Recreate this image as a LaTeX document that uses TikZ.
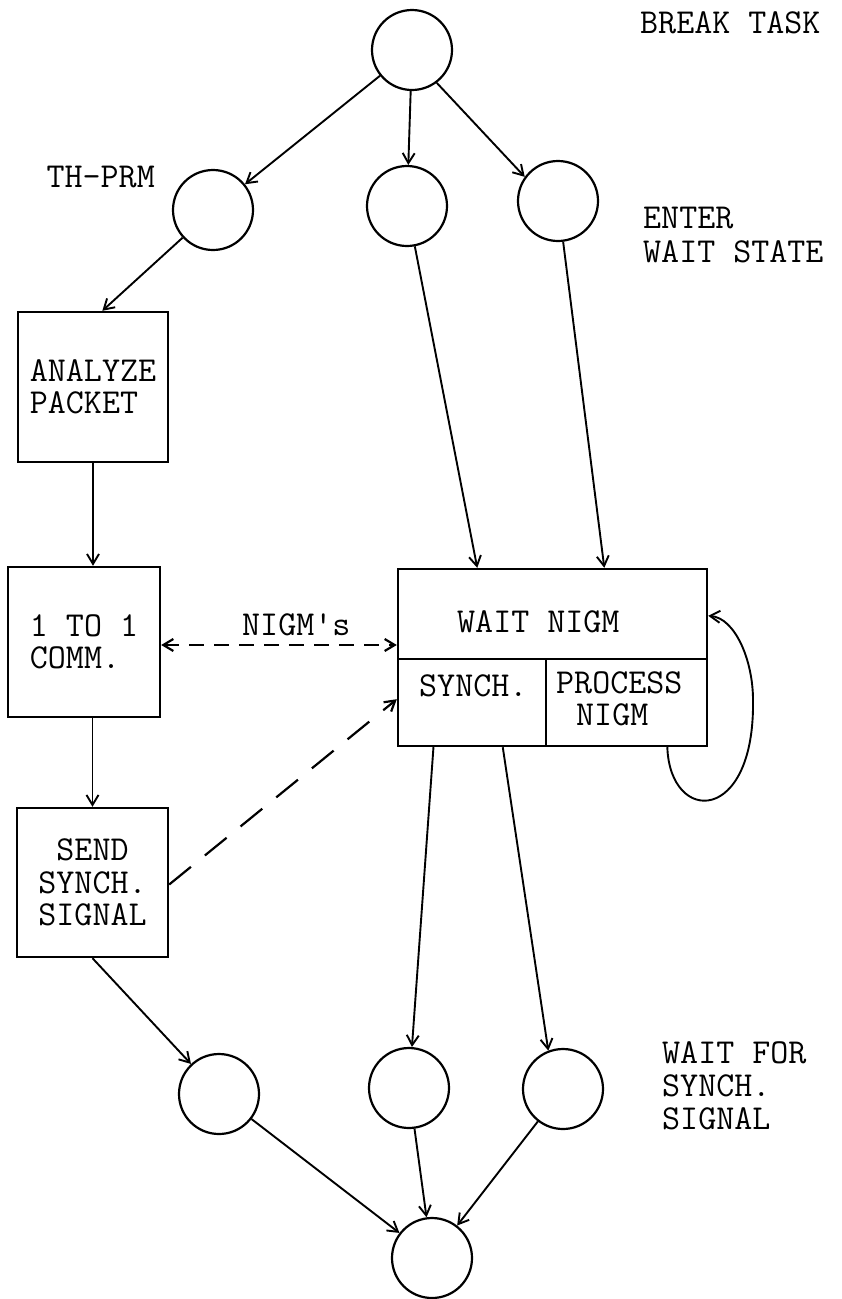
\documentclass[tikz,border=0pt]{standalone}
\usepackage{fontspec}
\setmonofont{Latin Modern Mono}
\usetikzlibrary{arrows.meta}
\begin{document}
\begin{tikzpicture}[x=1pt,y=-1pt,
  every node/.style={font=\ttfamily\fontsize{35}{32.5}\selectfont},
  st/.style={circle,draw,line width=2.2pt,minimum size=80pt,inner sep=0pt},
  bx/.style={rectangle,draw,line width=2.4pt,inner sep=0pt},
  lbl/.style={inner sep=0pt},
  tipb/.style={-{Straight Barb[length=10pt,width=12pt]}},
  arr/.style={line width=1.9pt,tipb},
  dsh/.style={line width=2.2pt,dash pattern=on 15pt off 10pt,
     {Straight Barb[length=10pt,width=12pt]}-{Straight Barb[length=10pt,width=12pt]}},
  ldsh/.style={line width=2.2pt,dash pattern=on 28pt off 18pt,tipb},
  part/.style={line width=2.4pt}
  ]
\useasboundingbox (0,0) rectangle (842,1299);

% states
\node[st] (top) at (412,50) {};
\node[st] (c1) at (213,210) {};
\node[st] (c2) at (407,206) {};
\node[st] (c3) at (558,201) {};
\node[st] (c4) at (219,1094) {};
\node[st] (c5) at (409,1088) {};
\node[st] (c6) at (563,1089) {};
\node[st] (fin) at (432,1258) {};

% boxes
\node[bx,minimum width=150pt,minimum height=150pt,align=left] (ana) at (93,387) {ANALYZE\\PACKET};
\node[bx,minimum width=152pt,minimum height=150pt,align=left] (comm) at (84,642) {1 TO 1\\COMM.};
\node[bx,minimum width=151pt,minimum height=149pt,align=center] (send) at (92.5,882.5) {SEND\\SYNCH.\\SIGNAL};
\node[bx,minimum width=309pt,minimum height=177pt] (wait) at (552.5,657.5) {};
\coordinate (dvl) at (398,659);
\coordinate (dvm) at (546,659);
\draw[part] (dvl) -- (dvl -| wait.east);
\draw[part] (dvm) -- (dvm |- wait.south);
\node[lbl,anchor=base west] (tw) at (457,632) {WAIT NIGM};
\node[lbl,anchor=base west] (ts) at (419,696) {SYNCH.};
\node[lbl,anchor=base west] (tp1) at (556,693) {PROCESS};
\node[lbl,anchor=base west] (tp2) at (576,725) {NIGM};

% labels
\node[lbl,anchor=base west] (l1) at (640,33) {BREAK TASK};
\node[lbl,anchor=base east] (l2) at (155,187) {TH-PRM};
\node[lbl,anchor=base west] (l3a) at (643,228) {ENTER};
\node[lbl,anchor=base west] (l3b) at (643,262) {WAIT STATE};
\node[lbl,anchor=base west] (l4a) at (662,1063) {WAIT FOR};
\node[lbl,anchor=base west] (l4b) at (662,1096) {SYNCH.};
\node[lbl,anchor=base west] (l4c) at (662,1129) {SIGNAL};
\node[lbl,anchor=base west] (nl) at (242,635) {NIGM\textquotesingle s};

% connectors
\draw[arr] (top) -- (c1);
\draw[arr] (top) -- (c2);
\draw[arr] (top.-53) -- (c3.144);
\draw[arr] (c1) -- (ana.83);
\draw[arr] (ana.south) -- (ana.south |- comm.north);
\draw[arr] (send.north |- comm.south) -- (send.north);
\draw[dsh] ([yshift=-3pt]comm.east) -- ([yshift=-3pt]comm.east -| wait.west);
\draw[arr] (c2) -- (wait.130.8);
\draw[arr] (c3) -- (wait.60.3);
\draw[arr] (wait.-38.3) .. controls (670,825) and (755,825) .. (753,700)
   .. controls (753,660) and (735,618) .. (wait.15.4);
\draw[ldsh] ([yshift=-2pt]send.east) -- (wait.195.4);
\draw[arr] (send.south) -- (c4);
\draw[arr] (wait.217.2) -- (c5);
\draw[arr] (wait.241.8) -- (c6.111);
\draw[arr] (c4) -- (fin);
\draw[arr] (c5) -- (fin);
\draw[arr] (c6) -- (fin);
\end{tikzpicture}
\end{document}
